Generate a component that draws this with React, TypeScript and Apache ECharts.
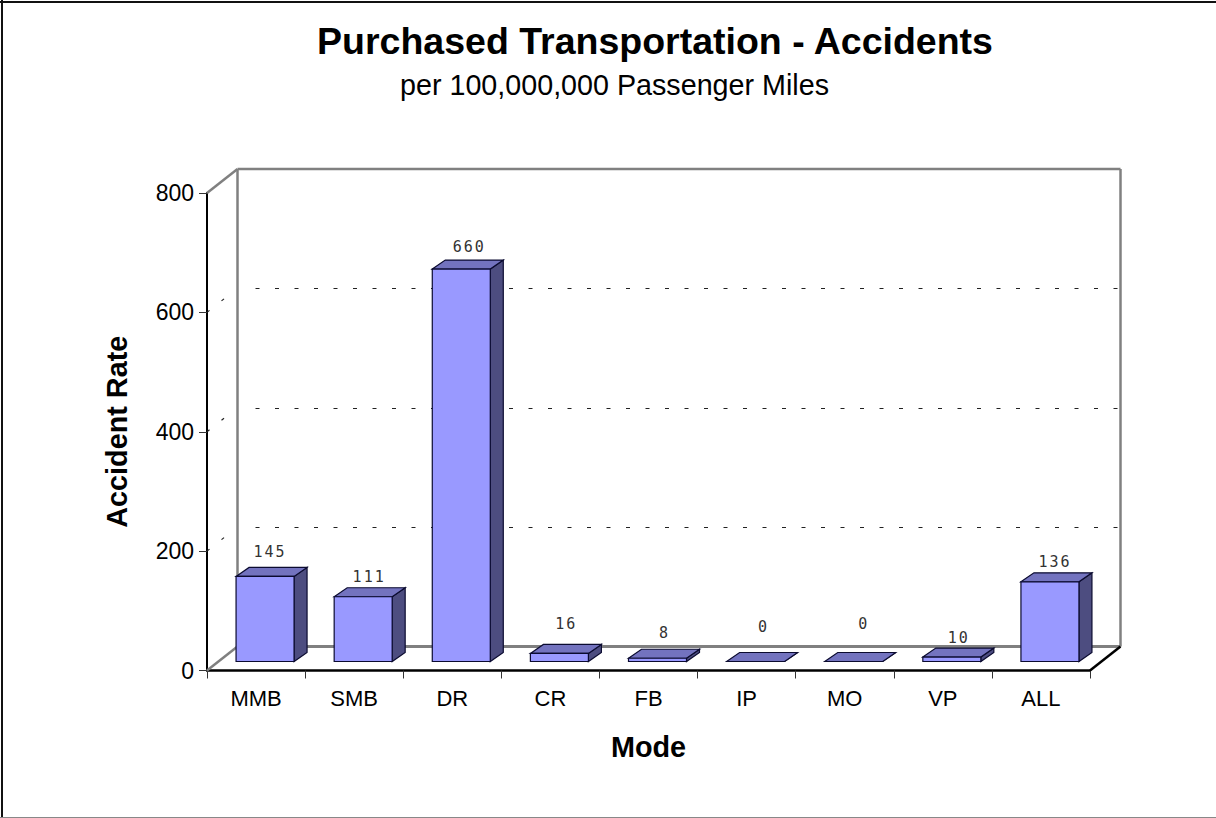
import React, { useEffect, useRef } from "react";
import * as echarts from "echarts";

const categories = ["MMB", "SMB", "DR", "CR", "FB", "IP", "MO", "VP", "ALL"];
const accidentRates = [145, 111, 660, 16, 8, 0, 0, 10, 136];
const wallGridValues = [200, 400, 600];
const labelLift = [24, 20, 22, 29, 25, 35, 38, 19, 20];
const labelNudge = [5, 6, 8, 7, 7, 8, 10, 7, 5];

const WALL_DX = 30.5;
const WALL_DY = 24;
const BAR_DX = 13;
const BAR_DY = 9;
const BAR_W = 58;
const BAR_SHIFT = 9;
const BASE_LIFT = 9;
const TOP_LIFT = 7.5;
const FONT = '"Liberation Sans", Arial, sans-serif';
const MONO = '"DejaVu Sans Mono", monospace';

const poly = (points: number[][], fill: string) => ({
  type: "polygon",
  shape: { points },
  style: { fill, stroke: "#0b0b30", lineWidth: 1.2, lineJoin: "miter" },
});

const seg = (x1: number, y1: number, x2: number, y2: number, stroke: string, lineWidth: number, lineDash?: number[]) => ({
  type: "line",
  shape: { x1, y1, x2, y2 },
  style: { stroke, lineWidth, lineDash },
});

export default function App() {
  const ref = useRef<HTMLDivElement>(null);
  useEffect(() => {
    document.body.style.margin = "0";
    const chart = echarts.init(ref.current!, null, { renderer: "svg" });
    chart.setOption({
      animation: false,
      backgroundColor: "#ffffff",
      title: [
        {
          text: "Purchased Transportation - Accidents",
          left: 650,
          top: 17,
          textAlign: "center",
          textStyle: { fontFamily: FONT, fontSize: 37.5, fontWeight: "bold", color: "#000" },
        },
        {
          text: "per 100,000,000 Passenger Miles",
          left: 609.5,
          top: 65,
          textAlign: "center",
          textStyle: { fontFamily: FONT, fontSize: 28.7, fontWeight: "normal", color: "#000" },
        },
      ],
      graphic: [
        { type: "line", shape: { x1: 2, y1: 0, x2: 2, y2: 818 }, style: { stroke: "#111", lineWidth: 2 }, silent: true },
        { type: "line", shape: { x1: 0, y1: 2, x2: 1216, y2: 2 }, style: { stroke: "#111", lineWidth: 2 }, silent: true },
        { type: "line", shape: { x1: 0, y1: 817.5, x2: 1216, y2: 817.5 }, style: { stroke: "#888", lineWidth: 1 }, silent: true },
      ],
      grid: { left: 207, top: 193, width: 883, height: 477.5, containLabel: false },
      xAxis: {
        type: "category",
        data: categories,
        name: "Mode",
        nameLocation: "middle",
        nameGap: 62,
        nameTextStyle: { fontFamily: FONT, fontSize: 28.8, fontWeight: "bold", color: "#000" },
        axisLine: { lineStyle: { color: "#000", width: 2.5 } },
        axisTick: { show: true, length: 8, alignWithLabel: false, lineStyle: { color: "#333", width: 1 } },
        axisLabel: { fontFamily: FONT, fontSize: 22, color: "#000", margin: 17, interval: 0 },
        splitLine: { show: false },
      },
      yAxis: {
        type: "value",
        min: 0,
        max: 800,
        interval: 200,
        name: "Accident Rate",
        nameLocation: "middle",
        nameGap: 76,
        nameRotate: 90,
        nameTextStyle: { fontFamily: FONT, fontSize: 28.8, fontWeight: "bold", color: "#000" },
        axisLine: { show: true, lineStyle: { color: "#000", width: 2 } },
        axisTick: { show: true, length: 8, lineStyle: { color: "#333", width: 1 } },
        axisLabel: { fontFamily: FONT, fontSize: 23, color: "#000", margin: 13 },
        splitLine: { show: false },
      },
      series: [
        {
          type: "custom",
          name: "walls",
          silent: true,
          z: 1,
          data: [0],
          renderItem: (_p: any, api: any) => {
            const band = api.size([1, 0])[0];
            const [cx, y0] = api.coord([0, 0]);
            const [, y8] = api.coord([0, 800]);
            const xL = cx - band / 2;
            const xR = xL + band * categories.length;
            const gray = "#808080";
            return {
              type: "group",
              children: [
                seg(xL + WALL_DX, y8 - WALL_DY, xR + WALL_DX, y8 - WALL_DY, gray, 2.5),
                seg(xL, y8, xL + WALL_DX, y8 - WALL_DY, gray, 2.5),
                seg(xL + WALL_DX, y8 - WALL_DY, xL + WALL_DX, y0 - WALL_DY, gray, 2.5),
                seg(xR + WALL_DX, y8 - WALL_DY, xR + WALL_DX, y0 - WALL_DY, gray, 2.5),
                seg(xL, y0, xL + WALL_DX, y0 - WALL_DY, gray, 2.5),
                seg(xL + WALL_DX, y0 - WALL_DY, xR + WALL_DX, y0 - WALL_DY, gray, 3),
                seg(xR, y0, xR + WALL_DX, y0 - WALL_DY, "#000", 2.5),
              ],
            };
          },
        },
        {
          type: "custom",
          name: "wallGrid",
          silent: true,
          z: 2,
          data: wallGridValues,
          encode: { y: 0 },
          renderItem: (_p: any, api: any) => {
            const v = api.value(0);
            const band = api.size([1, 0])[0];
            const [cx, y] = api.coord([0, v]);
            const xL = cx - band / 2;
            const xR = xL + band * categories.length;
            const yW = Math.round(y - WALL_DY) + 0.5;
            return {
              type: "group",
              children: [
                seg(xL + WALL_DX + 18, yW, xR + WALL_DX, yW, "#222", 1, [4, 15.5]),
                seg(xL + 14.5, y - 11.5, xL + 17, y - 13.5, "#222", 1.2),
                seg(xL, y, xL + 2.5, y - 2, "#222", 1.2),
              ],
            };
          },
        },
        {
          type: "custom",
          name: "Accident Rate",
          z: 3,
          data: accidentRates.map((v, i) => [i, v]),
          encode: { x: 0, y: 1 },
          renderItem: (_p: any, api: any) => {
            const i = api.value(0);
            const v = api.value(1);
            const [cx, y0] = api.coord([i, 0]);
            const [, yv] = api.coord([i, v]);
            const base = y0 - BASE_LIFT;
            const top = Math.min(base, yv - TOP_LIFT);
            const left = cx + BAR_SHIFT - BAR_W / 2;
            const right = left + BAR_W;
            return {
              type: "group",
              children: [
                poly([[right, top], [right + BAR_DX, top - BAR_DY], [right + BAR_DX, base - BAR_DY], [right, base]], "#4d4d80"),
                poly([[left, top], [left + BAR_DX, top - BAR_DY], [right + BAR_DX, top - BAR_DY], [right, top]], "#7373bf"),
                poly([[left, top], [right, top], [right, base], [left, base]], "#9999ff"),
                {
                  type: "text",
                  style: {
                    text: String(v),
                    x: cx + BAR_SHIFT + labelNudge[i],
                    y: top - labelLift[i],
                    align: "center",
                    verticalAlign: "middle",
                    fontFamily: MONO,
                    fontSize: 15,
                    fill: "#333",
                  },
                },
              ],
            };
          },
        },
      ],
    });
    return () => chart.dispose();
  }, []);
  return (
    <>
      <style>{`text[style*="DejaVu Sans Mono"]{letter-spacing:2px}`}</style>
      <div ref={ref} style={{ position: "absolute", left: 0, top: 0, width: 1216, height: 818 }} />
    </>
  );
}
